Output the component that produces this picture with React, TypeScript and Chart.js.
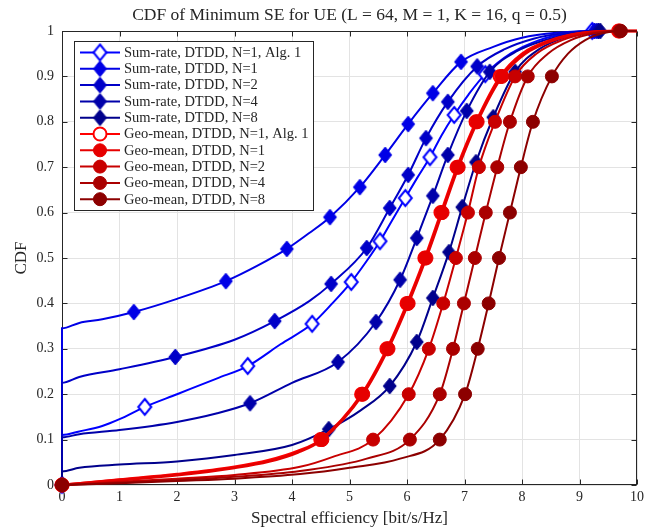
import React, { useEffect, useRef } from 'react';
import { Chart, registerables } from 'chart.js';

Chart.register(...registerables);

// ---------- texts ----------
const TITLE = 'CDF of Minimum SE for UE (L = 64, M = 1, K = 16, q = 0.5)';
const X_TITLE = 'Spectral efficiency [bit/s/Hz]';
const Y_TITLE = 'CDF';
const xTickLabels = ['0', '1', '2', '3', '4', '5', '6', '7', '8', '9', '10'];
const yTickLabels = ['0', '0.1', '0.2', '0.3', '0.4', '0.5', '0.6', '0.7', '0.8', '0.9', '1'];
const seriesLabels = [
  'Sum-rate, DTDD, N=1, Alg. 1',
  'Sum-rate, DTDD, N=1',
  'Sum-rate, DTDD, N=2',
  'Sum-rate, DTDD, N=4',
  'Sum-rate, DTDD, N=8',
  'Geo-mean, DTDD, N=1, Alg. 1',
  'Geo-mean, DTDD, N=1',
  'Geo-mean, DTDD, N=2',
  'Geo-mean, DTDD, N=4',
  'Geo-mean, DTDD, N=8',
];

// ---------- data: [spectral efficiency, CDF] ----------
// Sum-rate, N=1, Alg. 1
const srAlg1Marks = [[0, 0], [1.44, 0.172], [3.23, 0.262], [4.35, 0.355], [5.03, 0.447], [5.53, 0.537], [5.97, 0.632], [6.4, 0.722], [6.82, 0.815], [7.36, 0.905], [9.22, 1]];
const srAlg1Curve = [[0, 0.11], [0.3, 0.118], [0.7, 0.13], [1, 0.145], [2, 0.2], [2.7, 0.235], [3.8, 0.31], [4.7, 0.4], [5.28, 0.49], [5.75, 0.585], [6.18, 0.677], [6.6, 0.77], [7.07, 0.86], [7.8, 0.95], [8.3, 0.98], [8.8, 0.995], [10, 1]];
// Sum-rate, N=1
const sr1Marks = [[0, 0], [1.25, 0.381], [2.85, 0.449], [3.91, 0.52], [4.66, 0.59], [5.18, 0.656], [5.62, 0.727], [6.02, 0.795], [6.45, 0.863], [6.94, 0.932], [9.26, 1]];
const sr1Curve = [[0, 0.345], [0.3, 0.357], [0.7, 0.365], [2, 0.41], [3.4, 0.483], [4.3, 0.555], [7.5, 0.965], [8, 0.985], [8.6, 0.996], [10, 1]];
// Sum-rate, N=2
const sr2Marks = [[0, 0], [1.97, 0.282], [3.7, 0.361], [4.68, 0.443], [5.3, 0.522], [5.7, 0.61], [6.02, 0.683], [6.33, 0.764], [6.71, 0.844], [7.22, 0.922], [9.3, 1]];
const sr2Curve = [[0, 0.225], [0.3, 0.238], [1, 0.255], [3, 0.32], [4.3, 0.405], [7.7, 0.96], [8.2, 0.983], [8.7, 0.995], [10, 1]];
// Sum-rate, N=4
const sr4Marks = [[0, 0], [3.27, 0.18], [4.8, 0.271], [5.46, 0.359], [5.88, 0.452], [6.17, 0.544], [6.45, 0.637], [6.71, 0.727], [7.04, 0.824], [7.44, 0.91], [9.33, 1]];
const sr4Curve = [[0, 0.105], [0.3, 0.112], [1, 0.121], [2, 0.139], [2.7, 0.158], [4, 0.225], [7.9, 0.955], [8.4, 0.98], [8.9, 0.995], [10, 1]];
// Sum-rate, N=8
const sr8Marks = [[0, 0], [4.64, 0.123], [5.7, 0.218], [6.17, 0.315], [6.45, 0.412], [6.73, 0.513], [6.96, 0.612], [7.2, 0.711], [7.5, 0.81], [7.88, 0.91], [9.36, 1]];
const sr8Curve = [[0, 0.03], [0.3, 0.038], [1, 0.045], [2, 0.052], [3, 0.066], [4, 0.088], [5.2, 0.165], [8.3, 0.96], [8.8, 0.988], [9.1, 0.997], [10, 1]];
// Geo-mean, N=1, Alg. 1
const geoAlg1Marks = [[0, 0], [4.5, 0.1], [5.21, 0.2], [5.65, 0.3], [6.0, 0.4], [6.31, 0.5], [6.59, 0.6], [6.87, 0.7], [7.2, 0.8], [7.62, 0.9], [9.68, 1]];
const geoAlg1Curve = [[1, 0.012], [2, 0.024], [3, 0.04], [3.6, 0.055], [4.1, 0.075], [8.0, 0.95], [8.5, 0.98], [9.0, 0.995], [10, 1]];
// Geo-mean, N=1
const geo1Marks = [[0, 0], [4.52, 0.1], [5.23, 0.2], [5.67, 0.3], [6.02, 0.4], [6.33, 0.5], [6.61, 0.6], [6.89, 0.7], [7.22, 0.8], [7.65, 0.9], [9.7, 1]];
const geo1Curve = [[1, 0.011], [2, 0.022], [3, 0.038], [3.6, 0.052], [4.1, 0.072], [8.05, 0.95], [8.55, 0.98], [9.05, 0.995], [10, 1]];
// Geo-mean, N=2
const geo2Marks = [[0, 0], [5.41, 0.1], [6.03, 0.2], [6.38, 0.3], [6.63, 0.4], [6.85, 0.5], [7.06, 0.6], [7.25, 0.7], [7.53, 0.8], [7.88, 0.9], [9.7, 1]];
const geo2Curve = [[1, 0.007], [2, 0.014], [3, 0.022], [4.14, 0.04], [4.71, 0.062], [8.25, 0.95], [8.7, 0.98], [9.15, 0.995], [10, 1]];
// Geo-mean, N=4
const geo4Marks = [[0, 0], [6.05, 0.1], [6.57, 0.2], [6.8, 0.3], [6.99, 0.4], [7.18, 0.5], [7.37, 0.6], [7.57, 0.7], [7.79, 0.8], [8.1, 0.9], [9.7, 1]];
const geo4Curve = [[1, 0.005], [2, 0.011], [3, 0.018], [4.14, 0.031], [5.3, 0.058], [8.45, 0.95], [8.85, 0.98], [9.25, 0.995], [10, 1]];
// Geo-mean, N=8
const geo8Marks = [[0, 0], [6.57, 0.1], [7.01, 0.2], [7.23, 0.3], [7.42, 0.4], [7.6, 0.5], [7.79, 0.6], [7.98, 0.7], [8.19, 0.8], [8.52, 0.9], [9.72, 1]];
const geo8Curve = [[1, 0.004], [2, 0.009], [3, 0.014], [4.14, 0.024], [5.0, 0.038], [5.88, 0.058], [8.8, 0.95], [9.1, 0.98], [9.4, 0.995], [10, 1]];

// ---------- styles ----------
const FONT = "'Liberation Serif', 'Times New Roman', serif";
const TEXT = '#262626';
const COLORS = ['#0000FF', '#0000E6', '#0000C8', '#0000AA', '#00008C', '#FF0000', '#E60000', '#C80000', '#AA0000', '#8C0000'];

type Pair = number[];
type SeriesDef = { label: string; curve: Pair[]; marks: Pair[]; color: string; shape: 'diamond' | 'circle'; open: boolean; lw: number; r: number };

const SERIES: SeriesDef[] = [
  { label: seriesLabels[0], curve: srAlg1Curve, marks: srAlg1Marks, color: COLORS[0], shape: 'diamond', open: true, lw: 2, r: 7 },
  { label: seriesLabels[1], curve: sr1Curve, marks: sr1Marks, color: COLORS[1], shape: 'diamond', open: false, lw: 2, r: 7 },
  { label: seriesLabels[2], curve: sr2Curve, marks: sr2Marks, color: COLORS[2], shape: 'diamond', open: false, lw: 2, r: 7 },
  { label: seriesLabels[3], curve: sr4Curve, marks: sr4Marks, color: COLORS[3], shape: 'diamond', open: false, lw: 2, r: 7 },
  { label: seriesLabels[4], curve: sr8Curve, marks: sr8Marks, color: COLORS[4], shape: 'diamond', open: false, lw: 2, r: 7 },
  { label: seriesLabels[5], curve: geoAlg1Curve, marks: geoAlg1Marks, color: COLORS[5], shape: 'circle', open: true, lw: 2.5, r: 7 },
  { label: seriesLabels[6], curve: geo1Curve, marks: geo1Marks, color: COLORS[6], shape: 'circle', open: false, lw: 3, r: 7.5 },
  { label: seriesLabels[7], curve: geo2Curve, marks: geo2Marks, color: COLORS[7], shape: 'circle', open: false, lw: 2, r: 7 },
  { label: seriesLabels[8], curve: geo4Curve, marks: geo4Marks, color: COLORS[8], shape: 'circle', open: false, lw: 2, r: 7 },
  { label: seriesLabels[9], curve: geo8Curve, marks: geo8Marks, color: COLORS[9], shape: 'circle', open: false, lw: 2, r: 7 },
];

function makeDiamond(color: string, open: boolean): HTMLCanvasElement {
  const w = 13, h = 16;
  const c = document.createElement('canvas');
  c.width = w + 4;
  c.height = h + 4;
  const g = c.getContext('2d')!;
  const cx = c.width / 2, cy = c.height / 2;
  g.beginPath();
  g.moveTo(cx, cy - h / 2);
  g.lineTo(cx + w / 2, cy);
  g.lineTo(cx, cy + h / 2);
  g.lineTo(cx - w / 2, cy);
  g.closePath();
  g.fillStyle = open ? '#ffffff' : color;
  g.fill();
  g.lineWidth = open ? 2 : 1;
  g.strokeStyle = color;
  g.stroke();
  return c;
}

function mergeCurve(curve: Pair[], marks: Pair[]) {
  const seen = new Set<string>();
  const pts: { x: number; y: number }[] = [];
  [...curve, ...marks].forEach(([x, y]) => {
    const k = x + '|' + y;
    if (!seen.has(k)) {
      seen.add(k);
      pts.push({ x, y });
    }
  });
  pts.sort((a, b) => a.x - b.x || a.y - b.y);
  return pts;
}

const axesBoxPlugin = {
  id: 'axesBox',
  beforeDatasetsDraw(chart: any) {
    const { ctx, chartArea: a, scales } = chart;
    const xs = scales.x, ys = scales.y;
    ctx.save();
    ctx.strokeStyle = TEXT;
    ctx.lineWidth = 1;
    const L = Math.round(a.left) + 0.5, R = Math.round(a.right) - 0.5;
    const T = Math.round(a.top) + 0.5, B = Math.round(a.bottom) - 0.5;
    ctx.strokeRect(L, T, R - L, B - T);
    const tl = 5;
    ctx.beginPath();
    xs.ticks.forEach((t: any) => {
      const px = Math.round(xs.getPixelForValue(t.value)) + 0.5;
      ctx.moveTo(px, B); ctx.lineTo(px, B - tl);
      ctx.moveTo(px, T); ctx.lineTo(px, T + tl);
    });
    ys.ticks.forEach((t: any) => {
      const py = Math.round(ys.getPixelForValue(t.value)) + 0.5;
      ctx.moveTo(L, py); ctx.lineTo(L + tl, py);
      ctx.moveTo(R, py); ctx.lineTo(R - tl, py);
    });
    ctx.stroke();
    ctx.restore();
  },
};

function makeLegendPlugin(markerImgs: (HTMLCanvasElement | null)[]) {
  return {
    id: 'matlabLegend',
    afterDatasetsDraw(chart: any) {
      const { ctx, chartArea: a } = chart;
      const bx = Math.round(a.left) + 12.5, by = Math.round(a.top) + 10.5;
      const bw = 239, bh = 169;
      const rowH = 16.3;
      ctx.save();
      ctx.fillStyle = '#ffffff';
      ctx.fillRect(bx, by, bw, bh);
      ctx.strokeStyle = TEXT;
      ctx.lineWidth = 1;
      ctx.strokeRect(bx, by, bw, bh);
      ctx.font = `14.5px ${FONT}`;
      ctx.textAlign = 'left';
      ctx.textBaseline = 'middle';
      SERIES.forEach((s, i) => {
        const cy = by + 11 + rowH * i;
        ctx.strokeStyle = s.color;
        ctx.lineWidth = 2;
        ctx.beginPath();
        ctx.moveTo(bx + 5.5, cy);
        ctx.lineTo(bx + 45.5, cy);
        ctx.stroke();
        const mx = bx + 25.5;
        if (s.shape === 'diamond') {
          const img = markerImgs[i]!;
          ctx.drawImage(img, mx - img.width / 2, cy - img.height / 2);
        } else {
          ctx.beginPath();
          ctx.arc(mx, cy, 6.5, 0, Math.PI * 2);
          ctx.fillStyle = s.open ? '#ffffff' : s.color;
          ctx.fill();
          ctx.lineWidth = s.open ? 2 : 1;
          ctx.strokeStyle = s.color;
          ctx.stroke();
        }
        ctx.fillStyle = TEXT;
        ctx.fillText(s.label, bx + 49.5, cy + 0.5);
      });
      ctx.restore();
    },
  };
}

export default function App() {
  const canvasRef = useRef<HTMLCanvasElement | null>(null);

  useEffect(() => {
    const canvas = canvasRef.current;
    if (!canvas) return;
    const markerImgs = SERIES.map((s) => (s.shape === 'diamond' ? makeDiamond(s.color, s.open) : null));
    const datasets: any[] = [];
    SERIES.forEach((s, i) => {
      datasets.push({
        label: s.label,
        data: mergeCurve(s.curve, s.marks),
        borderColor: s.color,
        backgroundColor: s.color,
        borderWidth: s.lw,
        pointRadius: 0,
        pointHoverRadius: 0,
        cubicInterpolationMode: 'monotone',
        fill: false,
        clip: false,
        order: 100 - 2 * i,
      });
      datasets.push({
        label: s.label + ' markers',
        data: s.marks.map(([x, y]) => ({ x, y })),
        showLine: false,
        borderColor: s.color,
        backgroundColor: s.open ? '#ffffff' : s.color,
        pointStyle: s.shape === 'diamond' ? markerImgs[i] : 'circle',
        pointRadius: s.shape === 'diamond' ? 7 : s.r - 0.5,
        pointHoverRadius: s.shape === 'diamond' ? 7 : s.r - 0.5,
        pointBorderWidth: s.open ? 2 : 1,
        clip: false,
        order: 100 - 2 * i - 1,
      });
    });

    const tickFont = { family: FONT, size: 14 };
    const chart = new Chart(canvas, {
      type: 'line',
      data: { datasets },
      options: {
        animation: false,
        responsive: false,
        maintainAspectRatio: false,
        events: [],
        layout: { padding: { left: 0, right: 20, top: 0, bottom: 0 } },
        plugins: {
          legend: { display: false },
          tooltip: { enabled: false },
          title: {
            display: true,
            text: TITLE,
            fullSize: false,
            color: TEXT,
            font: { family: FONT, size: 17.5, weight: 'normal' },
            padding: { top: 5, bottom: 5 },
          },
        },
        scales: {
          x: {
            type: 'linear',
            min: 0,
            max: 10,
            afterFit: (s: any) => { s.height = 44; },
            ticks: {
              stepSize: 1,
              autoSkip: false,
              maxRotation: 0,
              padding: 4,
              color: TEXT,
              font: tickFont,
              callback: (_v: any, i: number) => xTickLabels[i],
            },
            grid: { color: '#e3e3e3', drawTicks: false, lineWidth: 1 },
            border: { display: false },
            title: { display: true, text: X_TITLE, color: TEXT, font: { family: FONT, size: 17 }, padding: { top: 0, bottom: 0 } },
          },
          y: {
            type: 'linear',
            min: 0,
            max: 1,
            afterFit: (s: any) => { s.width = 62; },
            ticks: {
              stepSize: 0.1,
              autoSkip: false,
              padding: 8,
              color: TEXT,
              font: tickFont,
              callback: (_v: any, i: number) => yTickLabels[i],
            },
            grid: { color: '#e3e3e3', drawTicks: false, lineWidth: 1 },
            border: { display: false },
            title: { display: true, text: Y_TITLE, color: TEXT, font: { family: FONT, size: 17 }, padding: { top: 11, bottom: 0 } },
          },
        },
      } as any,
      plugins: [axesBoxPlugin, makeLegendPlugin(markerImgs)],
    });
    return () => chart.destroy();
  }, []);

  return (
    <div style={{ position: 'absolute', left: 0, top: 0, width: 657, height: 529, background: '#ffffff' }}>
      <canvas ref={canvasRef} width={657} height={529} style={{ display: 'block', width: 657, height: 529 }} />
    </div>
  );
}
